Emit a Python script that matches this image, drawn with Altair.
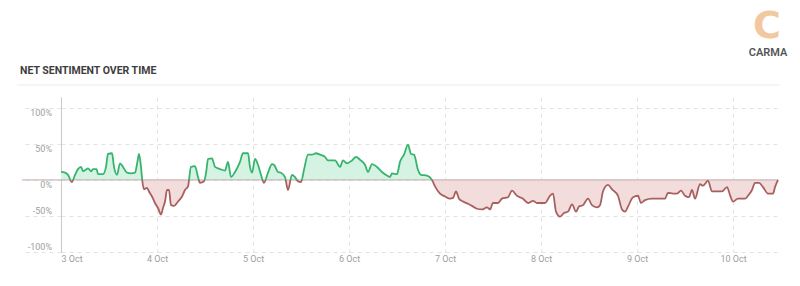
import altair as alt
import pandas as pd

# ---- data (hours since 3 Oct 00:00, net sentiment in %) ----
HOURS = [0, 1, 1.75, 2.7, 3.5, 4.25, 5, 5.5, 6.4, 6.75, 7.5, 8, 8.9, 9.25, 10.5, 11.25, 11.75,
         12.75, 13.25, 14, 14.75, 15.5, 16.5, 17.5, 18.5, 19.1, 19.5, 20, 20.3, 20.75, 21.5, 22,
         22.75, 23.5, 24.25, 25, 25.5, 26, 26.5, 27, 27.5, 28.25, 29.25, 30.25, 31, 31.75, 32.5,
         33.5, 34.25, 34.75, 35.75, 36.3, 36.75, 37.75, 38.5, 39.75, 41, 41.75, 42.5, 43.5, 44.75,
         45.5, 46.75, 47.25, 47.75, 48.5, 49.25, 50, 50.75, 51.75, 52.75, 53.25, 54.25, 55, 56,
         56.75, 57.75, 58.5, 59.25, 60, 60.75, 61.75, 62.75, 63.75, 64.75, 66, 66.75, 68.5, 69.75,
         70.5, 71.5, 72.75, 73.75, 74.75, 76, 76.75, 77.75, 79, 80.25, 81.5, 82.25, 82.75, 84,
         84.75, 85.75, 86.75, 87.5, 88.25, 89.25, 90, 91.5, 92.75, 93.5, 94.75, 96, 97.25, 98,
         98.75, 99.5, 100.5, 101.75, 102.75, 104, 105.25, 106.5, 107.25, 108, 109.25, 110.25,
         111.75, 112.75, 114, 115.5, 116.75, 118, 119, 121, 122.25, 123, 123.75, 124.75, 125.75,
         126.75, 127.75, 128.75, 129.5, 130.5, 131.75, 132.75, 134, 134.75, 135.5, 136.75, 137.75,
         139.25, 140.25, 141, 141.75, 143, 144.25, 145, 146, 147.75, 151, 151.75, 153, 154, 155,
         156, 157, 157.75, 158.5, 159.75, 160.5, 161.75, 162.75, 164, 165.25, 166.5, 167.25, 168,
         169.25, 171, 171.75, 172.75, 173.5, 174.5, 175.5, 176.75, 178, 178.5, 179.25]
SENTIMENT = [11, 10, 7, -3, 7, 15, 18, 12, 15, 16, 12, 15, 15, 8, 8, 18, 36,
             37, 18, 7, 23, 18, 10, 9, 10, 25, 36, 18, 0, -13, -11, -16,
             -23, -32, -39, -48, -39, -30, -14, -14, -35, -36, -30, -23, -14, -9, 18,
             19, 4, -4, -2, 11, 29, 30, 18, 15, 13, 25, 4, 11, 25,
             37, 37, 18, 10, 29, 21, 7, -4, 10, 22, 21, 11, 10, 4,
             -14, 7, 4, -2, -3, 14, 35, 35, 37, 35, 32, 27, 27, 18,
             27, 23, 27, 32, 28, 21, 11, 22, 18, 11, 6, 4, 9, 8,
             25, 35, 49, 36, 35, 14, 7, 6, 0, -9, -19, -23, -26, -25,
             -16, -26, -30, -33, -36, -40, -41, -38, -41, -32, -32, -26,
             -24, -15, -22, -26, -32, -29, -32, -32, -22, -19, -44, -51, -46,
             -44, -34, -44, -37, -35, -26, -35, -38, -35, -16, -7, -13,
             -22, -41, -44, -37, -24, -22, -32, -28, -26, -26, -18, -19, -19, -15,
             -22, -24, -14, -26, -6, -8, -1, -16, -16, -16, -10, -21, -30,
             -26, -26, -22, -14, -4, -4, -10, -19, -19, -10, 0]

DAY_TICKS = [0, 24, 48, 72, 96, 120, 144, 168]
DAY_LABELS = ["3 Oct", "4 Oct", "5 Oct", "6 Oct", "7 Oct", "8 Oct", "9 Oct", "10 Oct"]
Y_TICKS = [-100, -50, 0, 50, 100]
Y_LABELS = ["-100%", "-50%", "0%", "50%", "100%"]
TITLE = "NET SENTIMENT OVER TIME"
BRAND = "CARMA"

df = pd.DataFrame({"hour": HOURS, "sentiment": SENTIMENT})
ylab = pd.DataFrame({"v": Y_TICKS, "label": Y_LABELS})
one = pd.DataFrame({"k": [0]})

W, H = 717, 155
vmax, vmin = max(SENTIMENT), min(SENTIMENT)
split = vmax / (vmax - vmin)


def grad(top, bottom):
    return alt.LinearGradient(
        gradient="linear", x1=0, x2=0, y1=0, y2=1,
        stops=[alt.GradientStop(color=top, offset=0),
               alt.GradientStop(color=top, offset=split),
               alt.GradientStop(color=bottom, offset=split),
               alt.GradientStop(color=bottom, offset=1)])


x_scale = alt.Scale(domain=[0, 179.25], nice=False, zero=False)
y_scale = alt.Scale(domain=[-100, 115], nice=False)
label_expr = "[" + ",".join(f"'{l}'" for l in DAY_LABELS) + "][round(datum.value/24)]"

x_axis = alt.Axis(values=DAY_TICKS, labelExpr=label_expr, domain=False, ticks=False,
                  grid=True, gridDash=[4, 4], gridColor="#e3e3e3",
                  labelColor="#a0a0a0", labelFontSize=9, labelFont="Roboto",
                  labelPadding=2, title=None)
y_axis = alt.Axis(values=Y_TICKS, labels=False, domain=True, domainColor="#c9c9c9",
                  ticks=True, tickSize=39, tickDash=[4, 4], tickColor="#e3e3e3",
                  grid=True, gridDash=[4, 4], gridColor="#e3e3e3", title=None)

X = alt.X("hour:Q", scale=x_scale, axis=x_axis)
Y = alt.Y("sentiment:Q", scale=y_scale, axis=y_axis)

area = alt.Chart(df).mark_area(interpolate="monotone", fill=grad("#d5f3e2", "#f2dcdc")).encode(
    x=X, y=Y, y2=alt.datum(0))

zero = alt.Chart(one).mark_rule(color="#c2aaaa", strokeWidth=1).encode(
    y=alt.Y("k:Q", scale=y_scale, axis=y_axis), x=alt.value(-39), x2=alt.value(W))

line = alt.Chart(df).mark_line(interpolate="monotone", stroke=grad("#36b46e", "#a8605f"),
                               strokeWidth=1.8).encode(x=X, y=Y)

ylab_pos = alt.Chart(ylab).transform_filter("datum.v >= 0").mark_text(
    align="right", baseline="top", dy=1, fontSize=9, font="Roboto", color="#a0a0a0").encode(
    y=alt.Y("v:Q", scale=y_scale, axis=y_axis), x=alt.value(-9), text="label:N")
ylab_neg = alt.Chart(ylab).transform_filter("datum.v < 0").mark_text(
    align="right", baseline="bottom", dy=0, fontSize=9, font="Roboto", color="#a0a0a0").encode(
    y=alt.Y("v:Q", scale=y_scale, axis=y_axis), x=alt.value(-9), text="label:N")

title = alt.Chart(one).mark_text(text=TITLE, align="left", baseline="middle", fontSize=10.5,
                                 fontWeight="bold", font="Roboto", color="#3d3d3d").encode(
    x=alt.value(-41), y=alt.value(-26))
sep = alt.Chart(one).mark_rule(color="#ececec", strokeWidth=1).encode(
    x=alt.value(-44), x2=alt.value(719), y=alt.value(-12))
logo_c = alt.Chart(one).mark_text(text="C", align="center", baseline="alphabetic", fontSize=38,
                                  fontWeight="bold", font="DejaVu Sans", color="#f2c8a0").encode(
    x=alt.value(706), y=alt.value(-59))
logo_t = alt.Chart(one).mark_text(text=BRAND, align="center", baseline="alphabetic", fontSize=11,
                                  fontWeight=600, font="Roboto", color="#555555").encode(
    x=alt.value(707), y=alt.value(-41))

chart = alt.layer(area, zero, line, ylab_pos, ylab_neg, title, sep, logo_c, logo_t).properties(
    width=W, height=H,
    background="white",
    autosize=alt.AutoSizeParams(type="none"),
    padding={"left": 61, "top": 97, "right": 22, "bottom": 34},
).configure_view(stroke=None)

chart.save("out.html", embed_options={"renderer": "svg", "actions": False})
